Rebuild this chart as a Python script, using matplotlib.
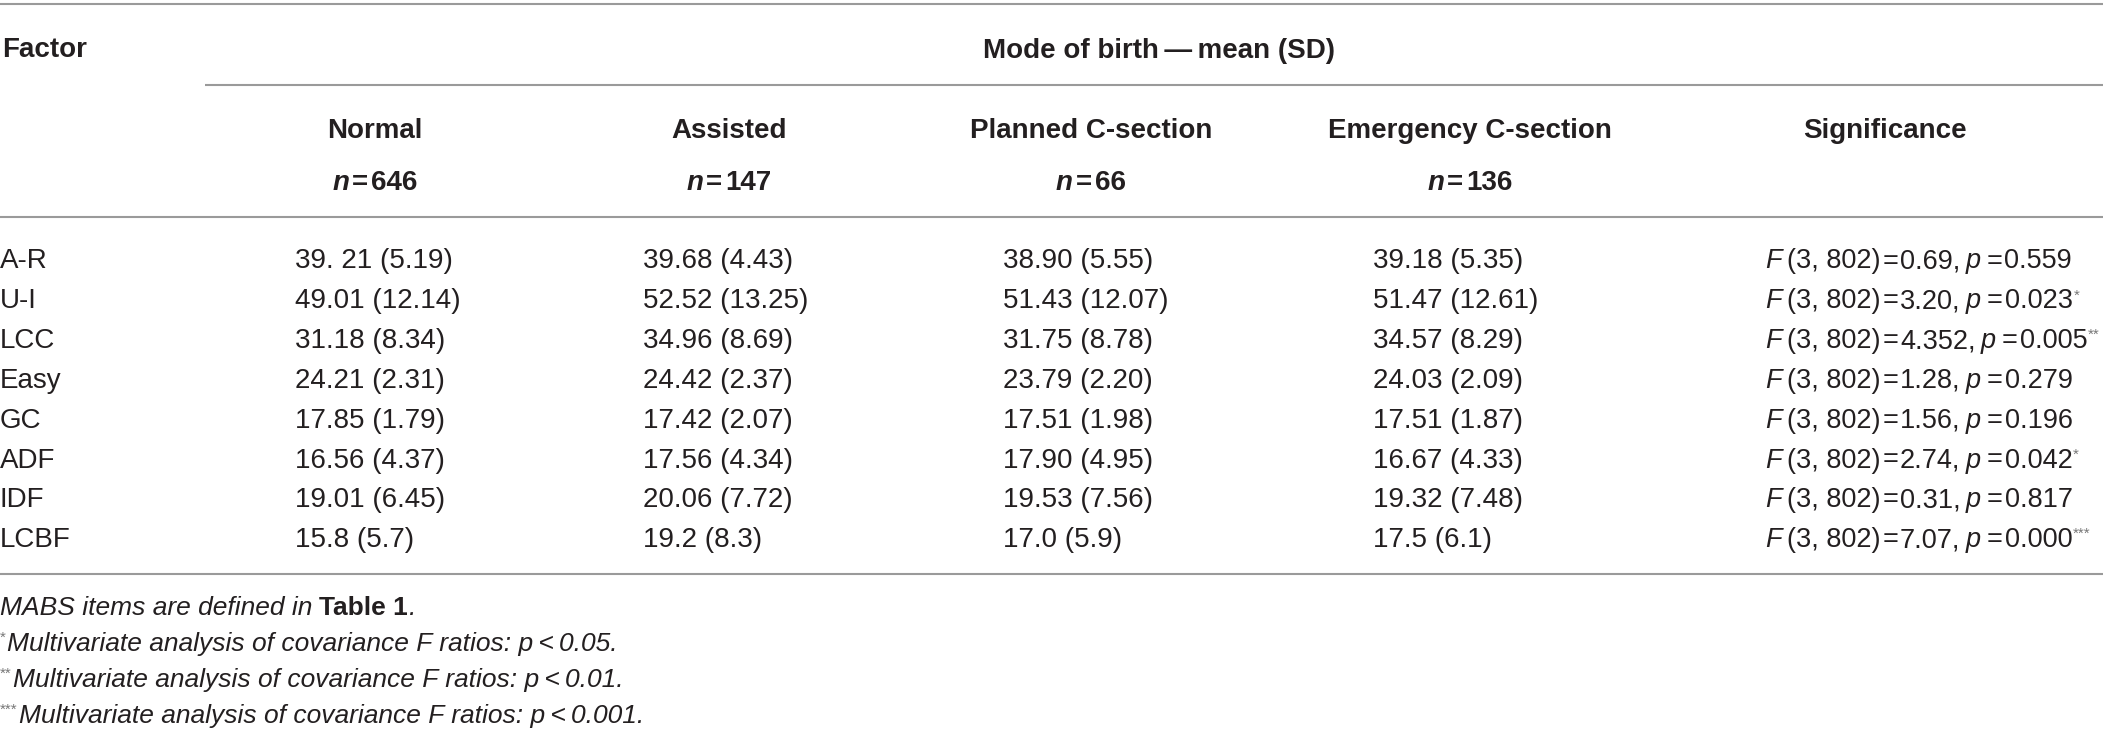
import matplotlib
matplotlib.use("Agg")
import matplotlib.pyplot as plt

W, H = 2103, 738
INK = "#231f20"
RULE = "#9a9a9a"
FONT = "Liberation Sans"
FS = 20

factors = ["A-R", "U-I", "LCC", "Easy", "GC", "ADF", "IDF", "LCBF"]
groups = ["Normal", "Assisted", "Planned C-section", "Emergency C-section"]
group_n = ["646", "147", "66", "136"]
normal = ["39. 21 (5.19)", "49.01 (12.14)", "31.18 (8.34)", "24.21 (2.31)",
          "17.85 (1.79)", "16.56 (4.37)", "19.01 (6.45)", "15.8 (5.7)"]
assisted = ["39.68 (4.43)", "52.52 (13.25)", "34.96 (8.69)", "24.42 (2.37)",
            "17.42 (2.07)", "17.56 (4.34)", "20.06 (7.72)", "19.2 (8.3)"]
planned = ["38.90 (5.55)", "51.43 (12.07)", "31.75 (8.78)", "23.79 (2.20)",
           "17.51 (1.98)", "17.90 (4.95)", "19.53 (7.56)", "17.0 (5.9)"]
emergency = ["39.18 (5.35)", "51.47 (12.61)", "34.57 (8.29)", "24.03 (2.09)",
             "17.51 (1.87)", "16.67 (4.33)", "19.32 (7.48)", "17.5 (6.1)"]
f_values = ["0.69", "3.20", "4.352", "1.28", "1.56", "2.74", "0.31", "7.07"]
p_values = ["0.559", "0.023", "0.005", "0.279", "0.196", "0.042", "0.817", "0.000"]
stars = ["", "*", "**", "", "", "*", "", "***"]
notes = [("", "0.05"), ("*", "0.01"), ("**", "0.001")]

fig = plt.figure(figsize=(W / 100, H / 100), dpi=100)
ax = fig.add_axes([0, 0, 1, 1])
ax.set_xlim(0, W)
ax.set_ylim(H, 0)
ax.axis("off")
renderer = fig.canvas.get_renderer()

RG = dict(family=FONT, size=FS)
SRG = dict(family=FONT, size=19.5)
SIT = dict(family=FONT, size=19.5, style="italic")
BD = dict(family=FONT, size=FS, weight="bold")
BI = dict(family=FONT, size=FS, weight="bold", style="italic")
SUP = dict(family=FONT, size=11, color="#777777", dy=-9)
FIT = dict(family=FONT, size=19, style="italic")
FBD = dict(family=FONT, size=19, weight="bold")


def runs(x, y, parts, ha="left"):
    # draw pieces of text one after another on the same baseline
    items = []
    for s, style, gap in parts:
        st = dict(style)
        dy = st.pop("dy", 0)
        st.setdefault("color", INK)
        t = ax.text(0, y + dy, s, va="baseline", ha="left", **st)
        w = t.get_window_extent(renderer).width if s else 0
        items.append((t, w, gap))
    total = sum(w + g for _, w, g in items) - items[-1][2]
    cx = x - total / 2 if ha == "center" else x
    for t, w, g in items:
        t.set_x(cx)
        cx += w + g


def rule(y, x0=0, x1=W):
    ax.plot([x0, x1], [y, y], color=RULE, lw=1.5, solid_capstyle="butt")


# rules
rule(4)
rule(85, x0=205)
rule(217)
rule(574)

# header
col_center = [375, 729, 1091, 1470]
col_left = [295, 643, 1003, 1373]
sig_center, sig_left = 1885, 1765

ax.text(2, 57, "Factor", va="baseline", ha="left", color=INK, **BD)
ax.text(1159, 58, "Mode of birth\u2009\u2014\u2009mean (SD)", va="baseline",
        ha="center", color=INK, **BD)
for name, n, cx in zip(groups, group_n, col_center):
    ax.text(cx, 138, name, va="baseline", ha="center", color=INK, **BD)
    runs(cx, 190, [("n", BI, 3), ("=", BD, 3), (n, BD, 0)], ha="center")
ax.text(sig_center, 138, "Significance", va="baseline", ha="center", color=INK, **BD)

# body
columns = [normal, assisted, planned, emergency]
for i, fac in enumerate(factors):
    yb = 268.5 + 39.8 * i
    ax.text(0, yb, fac, va="baseline", ha="left", color=INK, **RG)
    for col, x in zip(columns, col_left):
        ax.text(x, yb, col[i], va="baseline", ha="left", color=INK, **RG)
    runs(sig_left, yb, [("F", SIT, 5), ("(3, 802)", SRG, 2), ("=", SRG, 2),
                        (f_values[i] + ",", SRG, 5), ("p", SIT, 6), ("=", SRG, 2),
                        (p_values[i], SRG, 1), (stars[i], SUP, 0)])

# footnotes
runs(0, 615, [("MABS items are defined in", FIT, 7), ("Table 1", FBD, 1), (".", FIT, 0)])
for k, (st, p) in enumerate(notes):
    runs(0, 651 + 36 * k, [(st + "*", SUP, 1),
                           ("Multivariate analysis of covariance F ratios: p\u2009<\u2009" + p + ".",
                            FIT, 0)])

fig.savefig("out.png", dpi=100, facecolor="white")
